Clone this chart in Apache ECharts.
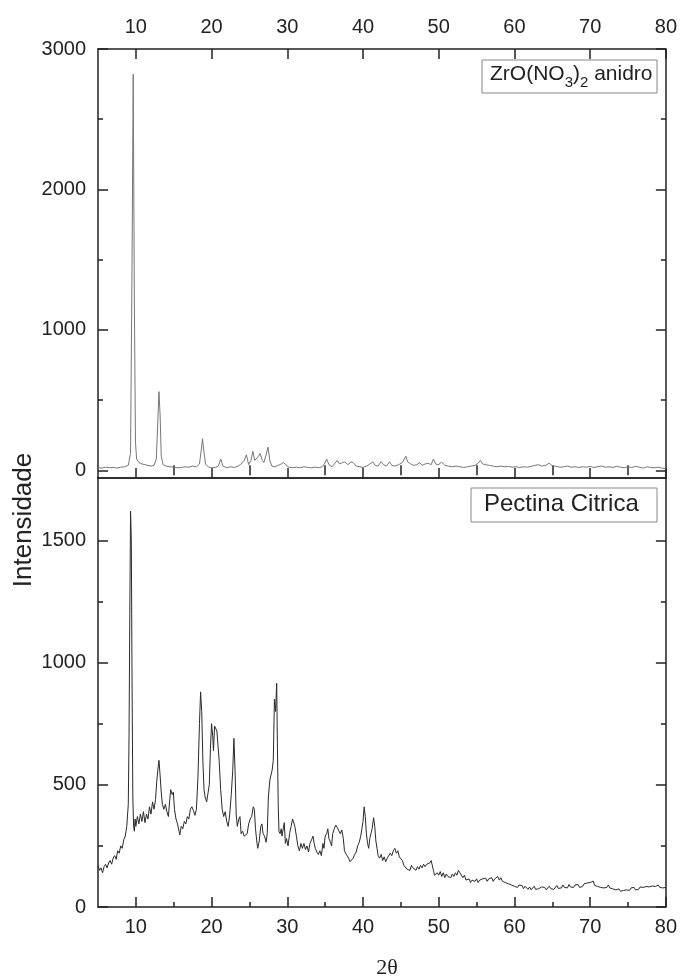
<!DOCTYPE html>
<html><head><meta charset="utf-8">
<script src="https://cdn.jsdelivr.net/npm/echarts@6/dist/echarts.min.js"></script>
<style>html,body{margin:0;padding:0;background:#fff}#c{width:680px;height:978px}</style>
</head><body><div id="c"></div>
<script>
const xTicksMajor = [10,20,30,40,50,60,70,80];
const xTicksMinor = [15,25,35,45,55,65,75];
const topYTicksMajor = [0,1000,2000,3000];
const topYTicksMinor = [500,1500,2500];
const botYTicksMajor = [0,500,1000,1500];
const botYTicksMinor = [250,750,1250];

const topTheta = [5.0,5.5,6.0,6.5,7.0,7.5,8.0,8.5,9.0,9.3,9.5,9.65,9.8,9.95,10.1,10.4,10.8,11.2,11.6,12.0,12.4,12.7,12.9,13.05,13.2,13.35,13.6,14.0,14.5,15.0,15.5,16.0,16.5,17.0,17.5,18.0,18.4,18.65,18.8,18.95,19.2,19.6,20.0,20.5,20.9,21.2,21.5,22.0,22.5,23.0,23.5,23.9,24.3,24.6,24.9,25.2,25.45,25.7,25.9,26.2,26.4,26.7,26.9,27.2,27.45,27.7,27.95,28.3,28.8,29.2,29.5,29.8,30.2,30.7,31.2,31.7,32.2,32.7,33.2,33.7,34.2,34.6,34.9,35.2,35.5,35.9,36.3,36.6,36.9,37.3,37.6,38.0,38.4,38.7,39.1,39.6,40.0,40.5,40.9,41.3,41.6,42.0,42.4,42.7,43.1,43.5,43.8,44.2,44.7,45.2,45.65,45.9,46.3,46.7,47.1,47.5,47.8,48.2,48.6,49.0,49.3,49.6,49.9,50.4,50.8,51.3,51.8,52.3,52.8,53.3,53.8,54.3,54.8,55.2,55.5,55.8,56.2,56.7,57.2,57.7,58.2,58.7,59.2,59.7,60.2,60.7,61.2,61.7,62.2,62.7,63.2,63.6,64.1,64.6,65.0,65.5,66.0,66.5,67.0,67.5,68.0,68.5,69.0,69.5,70.0,70.5,71.0,71.5,72.0,72.5,73.0,73.5,74.0,74.5,75.0,75.5,76.0,76.5,77.0,77.5,78.0,78.5,79.0,79.5,80.0];
const topIntensity = [20,15,22,18,20,16,22,25,35,120,1500,2820,1200,200,80,55,45,40,35,30,35,80,350,560,400,100,40,30,25,22,18,20,25,22,30,25,45,150,225,150,45,22,18,20,30,80,30,18,25,20,30,45,70,110,40,70,135,70,60,100,120,70,55,110,165,70,30,25,35,45,55,40,22,18,22,18,25,20,18,22,18,25,45,80,40,25,50,70,45,55,60,40,60,55,30,25,20,30,45,60,35,30,62,40,30,60,35,30,40,55,100,60,45,35,40,55,35,45,50,40,80,45,38,58,35,30,25,30,25,20,25,30,35,50,70,45,40,35,30,25,30,25,28,22,25,20,25,22,28,35,40,30,35,50,32,28,22,25,30,22,25,20,25,22,28,20,25,30,22,25,20,28,22,18,25,20,28,22,15,25,20,18,22,15,12];

const botTheta = [5.0,5.2,5.4,5.6,5.8,6.0,6.2,6.4,6.6,6.8,7.0,7.2,7.4,7.6,7.8,8.0,8.2,8.4,8.6,8.8,9.0,9.1,9.2,9.3,9.4,9.5,9.6,9.7,9.8,9.9,10.0,10.2,10.4,10.6,10.8,11.0,11.2,11.4,11.6,11.8,12.0,12.2,12.4,12.6,12.75,12.9,13.05,13.2,13.35,13.5,13.7,13.9,14.1,14.3,14.45,14.6,14.8,14.95,15.1,15.3,15.5,15.7,15.8,16.0,16.2,16.4,16.6,16.8,17.0,17.2,17.4,17.6,17.8,18.0,18.2,18.4,18.55,18.7,18.85,19.0,19.15,19.35,19.55,19.7,19.85,20.0,20.15,20.25,20.4,20.55,20.7,20.85,21.0,21.2,21.4,21.6,21.8,22.0,22.2,22.4,22.6,22.8,22.95,23.1,23.25,23.4,23.6,23.75,23.9,24.1,24.3,24.5,24.7,24.9,25.1,25.3,25.5,25.65,25.8,26.0,26.1,26.3,26.5,26.65,26.8,27.0,27.2,27.35,27.5,27.7,27.85,28.0,28.15,28.3,28.45,28.6,28.7,28.8,28.9,29.05,29.2,29.3,29.45,29.6,29.75,29.9,30.1,30.3,30.5,30.7,30.85,31.0,31.2,31.4,31.6,31.8,32.0,32.2,32.4,32.6,32.8,33.0,33.2,33.4,33.55,33.7,33.9,34.1,34.3,34.5,34.7,34.85,35.0,35.2,35.35,35.5,35.7,35.85,36.0,36.2,36.4,36.6,36.8,37.0,37.2,37.4,37.55,37.7,37.9,38.1,38.3,38.5,38.7,38.9,39.1,39.3,39.5,39.7,39.85,40.0,40.15,40.3,40.45,40.6,40.75,40.9,41.05,41.2,41.4,41.55,41.7,41.85,42.0,42.2,42.4,42.6,42.8,43.0,43.2,43.4,43.6,43.8,44.0,44.2,44.4,44.6,44.8,45.0,45.2,45.4,45.6,45.8,46.0,46.2,46.4,46.6,46.8,47.0,47.2,47.4,47.6,47.8,48.0,48.2,48.4,48.6,48.8,49.0,49.15,49.3,49.45,49.6,49.8,50.0,50.2,50.4,50.6,50.8,51.0,51.2,51.4,51.6,51.8,52.0,52.2,52.4,52.6,52.8,53.0,53.2,53.4,53.6,53.8,54.0,54.2,54.4,54.6,54.8,55.0,55.2,55.4,55.6,55.8,56.0,56.2,56.4,56.6,56.8,57.0,57.2,57.4,57.6,57.8,58.0,58.2,58.4,58.6,58.8,59.0,59.2,59.4,59.6,59.8,60.0,60.2,60.4,60.6,60.8,61.0,61.2,61.4,61.6,61.8,62.0,62.2,62.4,62.6,62.8,63.0,63.2,63.4,63.6,63.8,64.0,64.2,64.4,64.6,64.8,65.0,65.2,65.4,65.6,65.8,66.0,66.2,66.4,66.6,66.8,67.0,67.2,67.4,67.6,67.8,68.0,68.2,68.4,68.6,68.8,69.0,69.2,69.4,69.6,69.8,70.0,70.2,70.4,70.6,70.8,71.0,71.2,71.4,71.6,71.8,72.0,72.2,72.4,72.6,72.8,73.0,73.2,73.4,73.6,73.8,74.0,74.2,74.4,74.6,74.8,75.0,75.2,75.4,75.6,75.8,76.0,76.2,76.4,76.6,76.8,77.0,77.2,77.4,77.6,77.8,78.0,78.2,78.4,78.6,78.8,79.0,79.2,79.4,79.6,79.8,80.0];
const botIntensity = [170,150,160,140,165,175,160,180,190,175,200,210,195,230,220,250,240,275,290,330,420,700,1200,1620,1500,900,450,330,310,360,330,370,340,380,350,390,345,380,360,410,380,430,400,440,510,560,600,540,470,420,400,420,390,370,430,480,460,470,400,360,340,310,295,330,320,350,340,370,360,400,410,395,375,400,530,750,880,800,600,480,450,430,470,500,650,750,700,640,740,745,720,660,600,480,400,370,390,350,330,380,460,560,690,560,380,330,360,370,300,310,290,295,300,340,360,370,410,400,320,260,240,270,330,340,300,290,265,300,450,520,540,560,600,850,800,915,650,420,310,300,320,290,285,345,260,280,250,300,330,360,355,330,290,250,230,260,240,260,235,250,225,260,275,290,260,240,225,215,230,210,260,240,290,300,320,280,265,250,300,320,335,325,320,300,315,280,230,220,210,200,185,180,200,215,225,250,265,290,320,350,410,370,300,260,240,280,300,320,365,330,270,240,210,200,215,190,205,185,200,195,220,210,230,240,220,230,205,200,190,170,165,155,160,150,170,160,155,150,165,155,170,160,175,165,175,170,180,190,185,150,130,125,140,130,145,125,140,120,135,125,130,120,135,125,140,130,150,140,135,120,130,110,105,115,100,110,115,105,115,100,110,105,115,108,118,105,115,110,120,105,115,112,125,110,120,105,110,100,108,95,100,90,95,85,92,80,90,82,88,75,85,78,72,82,70,78,85,72,80,75,68,82,74,80,70,78,85,75,82,72,80,88,76,84,78,90,80,86,78,92,82,88,80,90,84,92,80,88,84,95,88,98,90,100,92,106,88,96,84,92,80,88,78,86,80,90,78,84,74,80,70,66,74,64,72,68,76,70,74,68,78,72,80,70,78,72,82,74,80,72,84,76,82,74,86,78,84,76,90,80,88,78,85,80];

const AX = '#222';
const FONT = 'Liberation Sans, Arial, Helvetica, sans-serif';
const lbl = {color:'#222', fontSize:20, fontFamily:FONT, formatter: v => String(v)};

function xAx(grid, pos, ticks, len, opts){
  return Object.assign({type:'value', gridIndex:grid, position:pos, min:5, max:80,
    splitLine:{show:false},
    axisLine:{show:false, lineStyle:{color:AX, width:1.5}},
    axisTick:{show:true, inside:true, length:len, customValues:ticks, lineStyle:{color:AX, width:1.5}},
    axisLabel:{show:false}}, opts||{});
}
function yAx(grid, pos, min, max, ticks, len, opts){
  return Object.assign({type:'value', gridIndex:grid, position:pos, min:min, max:max,
    splitLine:{show:false},
    axisLine:{show:false, lineStyle:{color:AX, width:1.5}},
    axisTick:{show:true, inside:true, length:len, customValues:ticks, lineStyle:{color:AX, width:1.5}},
    axisLabel:{show:false}}, opts||{});
}
const lineOn = {show:true, onZero:false, lineStyle:{color:AX, width:1.5}};
const MAJ = 10, MIN = 5;

const chart = echarts.init(document.getElementById('c'), null, {renderer:'canvas'});
chart.setOption({
  animation:false,
  backgroundColor:'#fff',
  grid:[
    {left:98, right:14, top:49, height:429},
    {left:98, right:14, top:478, height:429}
  ],
  xAxis:[
    xAx(0,'bottom',xTicksMajor,MAJ,{axisLine:lineOn}),
    xAx(0,'bottom',xTicksMinor,MIN),
    xAx(0,'top',xTicksMajor,MAJ,{axisLine:lineOn, axisLabel:Object.assign({show:true, customValues:xTicksMajor, margin:12}, lbl)}),
    xAx(0,'top',xTicksMinor,MIN),
    xAx(1,'bottom',xTicksMajor,MAJ,{axisLine:lineOn, axisLabel:Object.assign({show:true, customValues:xTicksMajor, margin:10}, lbl)}),
    xAx(1,'bottom',xTicksMinor,MIN),
    xAx(1,'top',[],MAJ,{axisLine:lineOn, axisTick:{show:false}})
  ],
  yAxis:[
    yAx(0,'left',-55,3000,topYTicksMajor,MAJ,{axisLine:lineOn, axisLabel:Object.assign({show:true, customValues:topYTicksMajor, margin:12}, lbl)}),
    yAx(0,'left',-55,3000,topYTicksMinor,MIN),
    yAx(0,'right',-55,3000,topYTicksMajor,MAJ,{axisLine:lineOn}),
    yAx(0,'right',-55,3000,topYTicksMinor,MIN),
    yAx(1,'left',0,1755,botYTicksMajor,MAJ,{axisLine:lineOn, axisLabel:Object.assign({show:true, customValues:botYTicksMajor, margin:12}, lbl)}),
    yAx(1,'left',0,1755,botYTicksMinor,MIN),
    yAx(1,'right',0,1755,botYTicksMajor,MAJ,{axisLine:lineOn}),
    yAx(1,'right',0,1755,botYTicksMinor,MIN)
  ],
  series:[
    {type:'line', xAxisIndex:0, yAxisIndex:0, showSymbol:false, symbol:'none',
     data: topTheta.map((t,i)=>[t, topIntensity[i]]),
     lineStyle:{color:'#777', width:1}},
    {type:'line', xAxisIndex:4, yAxisIndex:4, showSymbol:false, symbol:'none',
     data: botTheta.map((t,i)=>[t, botIntensity[i]]),
     lineStyle:{color:'#2a2a2a', width:1}}
  ],
  graphic:[
    {type:'rect', shape:{x:482, y:60, width:175, height:33}, style:{fill:'#fff', stroke:'#888', lineWidth:1}},
    {type:'text', left:490, top:64, style:{
      text:'{a|ZrO(NO}{s|3}{a|)}{s|2}{a| anidro}',
      rich:{a:{fontSize:21, fontFamily:FONT, fill:'#222', lineHeight:24, verticalAlign:'top'},
            s:{fontSize:15, fontFamily:FONT, fill:'#222', lineHeight:15, padding:[11,0,0,0], verticalAlign:'top'}}}},
    {type:'rect', shape:{x:471, y:488, width:186, height:34}, style:{fill:'#fff', stroke:'#888', lineWidth:1}},
    {type:'text', left:484, top:492, style:{text:'Pectina Citrica', fontSize:24, fontFamily:FONT, fill:'#222'}},
    {type:'text', x:24, y:520, rotation:Math.PI/2, style:{text:'Intensidade', fontSize:26, fontFamily:FONT, fill:'#222', textAlign:'center', textVerticalAlign:'middle'}},
    {type:'text', x:387, y:968, style:{text:'2θ', fontSize:22, fontFamily:'Liberation Serif, Times New Roman, serif', fill:'#222', textAlign:'center', textVerticalAlign:'middle'}}
  ]
});
</script>
</body></html>
